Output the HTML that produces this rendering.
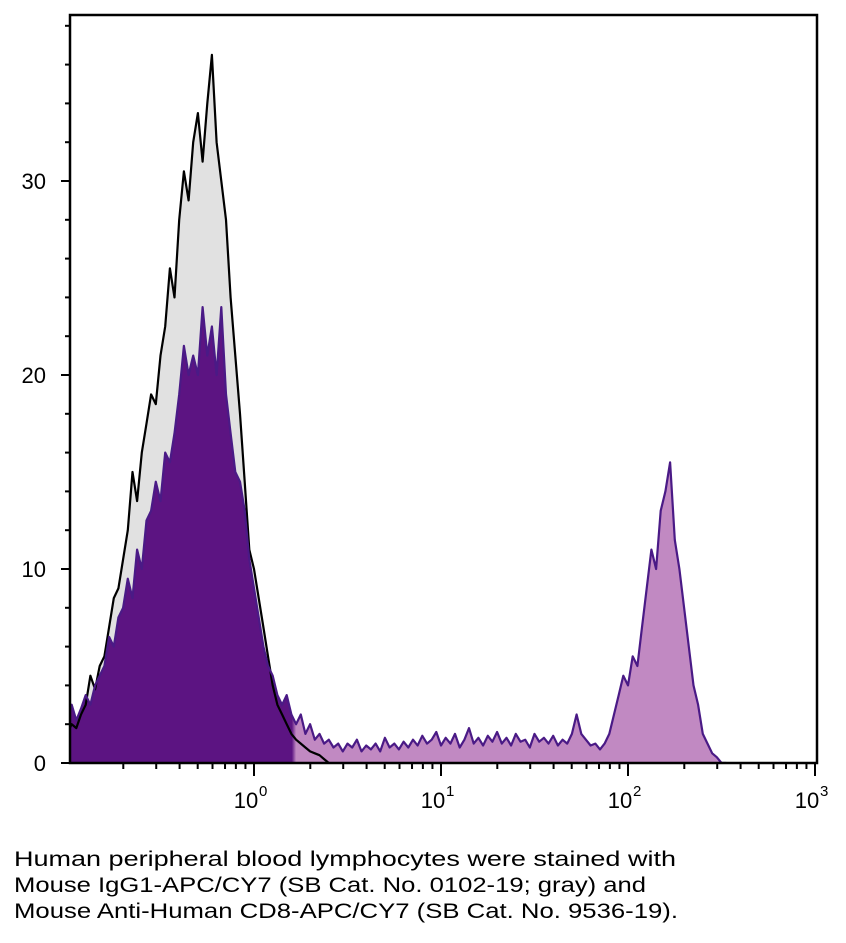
<!DOCTYPE html>
<html><head><meta charset="utf-8"><style>
html,body{margin:0;padding:0;background:#fff;}
svg{display:block;font-family:"Liberation Sans",sans-serif;}
</style></head><body>
<svg id="chart" width="846" height="943" viewBox="0 0 846 943">
<defs>
<linearGradient id="pfill" gradientUnits="userSpaceOnUse" x1="0" y1="0" x2="846" y2="0">
<stop offset="0.345" stop-color="#5c1482"/><stop offset="0.35" stop-color="#c189c2"/>
</linearGradient>
</defs>
<g id="plot"></g>
<g id="axes"></g>
<g font-size="21" fill="#000">
<text x="14" y="866" textLength="662" lengthAdjust="spacingAndGlyphs">Human peripheral blood lymphocytes were stained with</text>
<text x="14" y="892" textLength="632" lengthAdjust="spacingAndGlyphs">Mouse IgG1-APC/CY7 (SB Cat. No. 0102-19; gray) and</text>
<text x="14" y="918" textLength="664" lengthAdjust="spacingAndGlyphs">Mouse Anti-Human CD8-APC/CY7 (SB Cat. No. 9536-19).</text>
</g>
</svg>
<script>
const binStart = -1.0;
const binStep = 0.025;
const isotypeCounts = [1.5,2,1.8,2.5,3,4.5,3.8,5,5.5,7,8.5,9,10.5,12,15,13.5,16,17.5,19,18.5,21,22.5,25.5,24,28,30.5,29,32,33.5,31,34,36.5,32,30,28,24,21,18,14.5,11,10,8.5,7,5.5,4,3,2.5,2,1.5,1.2,1,0.8,0.6,0.5,0.4,0.2,0];
const cd8Counts = [2.5,3,2.2,2.8,3.5,3,4,4.5,5,6.5,6,7.5,8,9.5,8.5,11,10,12.5,13,14.5,13.5,16,15.5,17,19,21.5,20,21,20,23.5,21,22.5,20,23.5,19,17,15,14.5,13,10.5,9,7.5,6,5,4.5,3.5,3,3.5,2.5,2,2.5,1.5,2,1.2,1.5,1,1.2,0.8,1,0.6,1,0.8,1.2,0.6,0.9,0.7,1,0.6,1.3,0.8,1,0.7,1.1,0.8,1.2,0.9,1.4,1,1.2,1.6,0.9,1.3,1,1.5,0.8,1.2,1.8,1,1.3,0.9,1.4,1.1,1.6,1,1.3,0.9,1.5,1.1,1.2,0.8,1.5,1.1,1.3,1,1.4,0.9,1.2,1,1.5,2.5,1.5,1.2,0.9,1,0.7,1,1.5,2.5,3.5,4.5,4,5.5,5,7,9,11,10,13,14,15.5,11.5,10,8,6,4,3,1.5,1,0.5,0.3,0,0];
const yTickLabels = ["0","10","20","30"];
const yTickValues = [0,10,20,30];
const xTickExps = [0,1,2,3];

const L=70,R=817,T=15,B=763;
const xDec0=254, xPerDec=187, yPerUnit=19.4;
function xs(lg){return xDec0+lg*xPerDec;}
function ys(v){return B-v*yPerUnit;}
const NS="http://www.w3.org/2000/svg";
function mk(tag,attrs,parent){const e=document.createElementNS(NS,tag);for(const k in attrs)e.setAttribute(k,attrs[k]);parent.appendChild(e);return e;}
const plot=document.getElementById('plot'), axes=document.getElementById('axes');

function pts(arr){const p=[];arr.forEach((v,i)=>{p.push([xs(binStart+i*binStep),ys(v)]);});return p;}
function areaD(p){let d='M'+p[0][0].toFixed(1)+','+B;p.forEach(q=>d+=' L'+q[0].toFixed(1)+','+q[1].toFixed(1));d+=' L'+p[p.length-1][0].toFixed(1)+','+B+' Z';return d;}
function lineD(p){return 'M'+p.map(q=>q[0].toFixed(1)+','+q[1].toFixed(1)).join(' L');}
const clip=mk('clipPath',{id:'pc'},plot);mk('rect',{x:L,y:T,width:R-L,height:B-T},clip);
const g=mk('g',{'clip-path':'url(#pc)'},plot);
const pi=pts(isotypeCounts), pc=pts(cd8Counts);
const a1=mk('path',{d:areaD(pi),fill:'#e1e1e1'},g);


const a2=mk('path',{d:areaD(pc),fill:'url(#pfill)'},g);


const l1=mk('path',{d:lineD(pi),fill:'none',stroke:'#000','stroke-width':2.2,'stroke-linejoin':'round'},g);


const l2=mk('path',{d:lineD(pc),fill:'none',stroke:'#4a1a86','stroke-width':2.2,'stroke-linejoin':'round'},g);



const frame=mk('rect',{x:L,y:T,width:R-L,height:B-T,fill:'none',stroke:'#000','stroke-width':2.5},axes);


for(let v=0;v<=38;v+=2){const major=v%10===0;const t=mk('line',{x1:L-(major?9:5),x2:L,y1:ys(v),y2:ys(v),stroke:'#000','stroke-width':2},axes);

}
yTickValues.forEach((v,i)=>{const t=mk('text',{x:L-24,y:ys(v)+8,'text-anchor':'end','font-size':22},axes);t.textContent=yTickLabels[i];

});
for(let e=-1;e<3;e++){for(let m=1;m<10;m++){const lg=e+Math.log10(m);const x=xs(lg);if(x<L+2)continue;const t=mk('line',{x1:x,x2:x,y1:B,y2:B+(m===1?13:6),stroke:'#000','stroke-width':2},axes);

}}
const last=mk('line',{x1:xs(3),x2:xs(3),y1:B,y2:B+13,stroke:'#000','stroke-width':2},axes);


xTickExps.forEach(e=>{const t=mk('text',{x:xs(e)-8,y:808,'text-anchor':'middle','font-size':22},axes);t.textContent='10';


const s=mk('text',{x:xs(e)+5,y:796,'font-size':15},axes);s.textContent=String(e);

});
</script>
</body></html>
